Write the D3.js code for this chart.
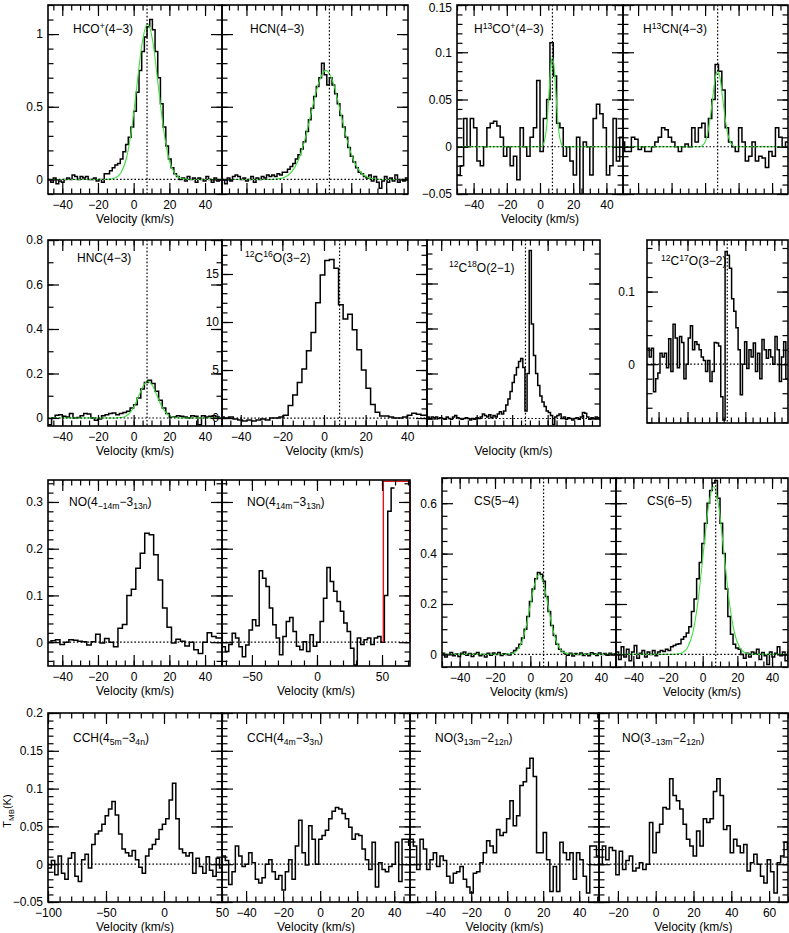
<!DOCTYPE html>
<html>
<head>
<meta charset="utf-8">
<script src="https://cdn.jsdelivr.net/npm/d3@7"></script>
<style>
  body { margin: 0; background: #fff; }
  svg { display: block; font-family: "Liberation Sans", Arial, sans-serif; }
</style>
</head>
<body>
<script>
// ---- spectra: T_MB (K) per channel ----
// HCO+(4-3), channels start -48 km/s, 1.5 km/s wide
const hcoT = [0.0, -0.02, 0.01, -0.03, -0.01, -0.02, 0.0, 0.01, 0.0, 0.03,
  0.02, 0.0, 0.02, 0.01, 0.02, 0.0, 0.0, 0.01, -0.01, 0.0,
  -0.02, 0.04, 0.04, 0.06, 0.08, 0.1, 0.11, 0.14, 0.19, 0.24,
  0.29, 0.36, 0.47, 0.6, 0.75, 0.88, 0.98, 1.05, 1.1, 1.03,
  0.88, 0.7, 0.52, 0.36, 0.23, 0.14, 0.08, 0.04, 0.02, 0.0,
  0.01, -0.01, 0.02, 0.0, 0.01, -0.02, 0.01, 0.0, -0.01, 0.02,
  0.0, -0.02, 0.01, -0.01, 0.0];
// HCN(4-3), start -54, 1.5 wide
const hcnT = [0.0, -0.03, 0.01, -0.01, 0.02, 0.03, 0.02, 0.0, 0.01, -0.01,
  0.0, 0.02, -0.02, 0.01, 0.0, 0.02, 0.01, 0.03, 0.02, 0.03,
  0.02, 0.04, 0.03, 0.05, 0.05, 0.07, 0.09, 0.11, 0.14, 0.17,
  0.21, 0.26, 0.33, 0.41, 0.49, 0.57, 0.64, 0.7, 0.8, 0.72,
  0.65, 0.7, 0.65, 0.59, 0.52, 0.44, 0.36, 0.29, 0.22, 0.16,
  0.12, 0.08, 0.05, 0.04, 0.02, 0.01, 0.03, -0.01, 0.02, -0.02,
  -0.06, -0.01, 0.02, -0.02, 0.01, -0.01, 0.03, -0.02, 0.0, -0.01, 0.01];
// H13CO+(4-3), start -50, 2 wide
const h13coT = [-0.03, -0.02, 0.03, 0.0, 0.03, 0.02, -0.015, -0.02, 0.0, 0.02,
  0.025, 0.027, 0.022, 0.01, -0.01, 0.0, -0.02, -0.01, -0.035, 0.02,
  0.0, -0.01, 0.01, 0.02, 0.07, -0.005, 0.03, 0.05, 0.11, 0.075,
  0.025, 0.02, -0.01, 0.0, -0.015, -0.03, 0.01, -0.05, 0.005, 0.0,
  -0.03, 0.03, 0.045, 0.035, 0.02, -0.03, -0.02, 0.03, -0.015, 0.01];
// H13CN(4-3), start -50, 2 wide
const h13cnT = [0.005, -0.005, -0.005, 0.01, 0.008, -0.003, 0.0, -0.005, -0.005, 0.0,
  0.005, 0.01, 0.02, 0.018, 0.01, 0.005, 0.0, -0.005, 0.0, 0.003,
  0.0, 0.02, 0.005, 0.02, 0.025, 0.01, 0.03, 0.05, 0.087, 0.08,
  0.06, 0.02, 0.005, 0.0, -0.005, 0.02, 0.005, -0.015, -0.01, 0.005,
  -0.015, -0.01, -0.012, -0.022, -0.005, -0.01, 0.02, 0.01, 0.0, 0.005];
// HNC(4-3), start -48, 2 wide
const hncT = [-0.03, 0.0, 0.012, 0.015, 0.008, 0.005, 0.02, 0.0, 0.002, 0.01,
  0.02, 0.018, 0.0, -0.01, -0.005, 0.01, 0.015, 0.02, 0.022, 0.015,
  0.02, 0.025, 0.03, 0.045, 0.06, 0.09, 0.13, 0.16, 0.17, 0.155,
  0.12, 0.08, 0.045, 0.02, 0.005, 0.005, 0.01, 0.008, 0.005, 0.0,
  0.01, 0.008, -0.03, 0.01, 0.005, 0.008, 0.01, 0.005, 0.0];
// 12C16O(3-2), start -50.2, 2.2 wide
const co16T = [0.1, 0.0, 0.1, -0.1, -0.2, -0.3, -0.2, -0.3, -0.2, -0.1,
  -0.2, 0.0, 0.0, 0.1, 0.3, 1.3, 2.4, 3.7, 5.1, 7.0,
  8.9, 12.0, 14.9, 16.4, 16.5, 15.6, 11.8, 10.3, 10.8, 9.2,
  7.1, 5.0, 3.1, 1.4, 0.6, 0.2, 0.2, 0.1, 0.0, 0.0,
  0.1, 0.3, 0.5, 0.4, 0.3, 0.3];
// 12C18O(2-1), start -48, 1.2 wide
const co18T = [0.01, 0.0, 0.01, 0.005, 0.01, 0.0, 0.005, 0.0, -0.005, 0.01,
  0.0, -0.005, 0.01, 0.02, 0.005, 0.0, -0.005, 0.0, 0.005, 0.0,
  -0.01, 0.0, -0.005, 0.005, 0.0, 0.01, 0.03, 0.02, 0.01, 0.025,
  0.005, 0.02, 0.01, 0.03, 0.045, 0.03, 0.05, 0.09, 0.13, 0.18,
  0.24, 0.29, 0.34, 0.38, 0.4, 0.34, 0.05, 0.3, 1.12, 0.63,
  0.42, 0.3, 0.22, 0.15, 0.11, 0.08, 0.05, 0.04, 0.02, -0.04,
  0.01, 0.02, 0.03, 0.0, 0.01, -0.005, 0.005, 0.0, -0.01, 0.0,
  0.005, -0.005, 0.01, 0.04, 0.035, 0.01, -0.005, 0.005, 0.0, 0.01,
  0.005, 0.0];
// 12C17O(3-2), start -48, 1.5 wide
const co17T = [0.022, 0.01, 0.022, -0.038, -0.02, -0.012, 0.015, 0.01, 0.015, -0.005,
  0.035, -0.01, 0.055, 0.036, -0.005, 0.038, 0.03, -0.02, 0.0, 0.036,
  0.053, 0.02, 0.031, 0.027, 0.02, 0.01, 0.005, -0.01, 0.005, -0.024,
  -0.01, 0.03, 0.029, 0.025, -0.045, -0.077, 0.155, 0.15, 0.132, 0.09,
  0.073, 0.05, 0.02, -0.042, 0.0, 0.031, -0.006, 0.02, 0.01, 0.029,
  -0.01, 0.015, -0.02, 0.034, 0.02, 0.008, 0.02, 0.01, 0.0, 0.038,
  0.02, -0.024, 0.01, 0.031, -0.02];
// NO(4_-14m - 3_13n), start -48.8, 2.5 wide
const no1T = [0.0, 0.003, 0.005, -0.005, 0.0, 0.005, 0.004, 0.002, 0.001, -0.006,
  0.001, 0.017, -0.002, 0.008, 0.0, -0.01, 0.03, 0.038, 0.1, 0.113,
  0.158, 0.19, 0.233, 0.23, 0.187, 0.133, 0.073, 0.032, -0.002, 0.006,
  0.002, -0.008, 0.0, -0.016, -0.024, 0.0, 0.02, 0.012, 0.009, 0.009];
// NO(4_14m - 3_13n), start -73, 2.6 wide
const no2T = [-0.01, -0.02, -0.005, 0.019, 0.009, -0.01, -0.031, -0.006, 0.026, 0.048,
  0.035, 0.153, 0.137, 0.119, 0.073, 0.037, 0.009, -0.027, 0.012, 0.044,
  0.053, 0.023, -0.009, -0.016, 0.001, -0.02, 0.016, -0.009, 0.0, 0.044,
  0.094, 0.16, 0.13, 0.109, 0.087, 0.066, 0.041, 0.023, -0.013, -0.049,
  0.009, -0.005, 0.005, 0.009, -0.005, 0.009, 0.012, 0.0, 0.1, 0.28, 0.33];
// CS(5-4), start -50, 1.5 wide
const cs54T = [0.005, -0.01, 0.0, 0.008, -0.005, 0.002, -0.008, 0.005, 0.01, -0.003,
  0.004, -0.008, 0.002, 0.008, -0.005, 0.0, -0.01, 0.005, -0.003, 0.006,
  0.0, 0.008, -0.004, 0.003, 0.0, -0.002, 0.006, 0.015, 0.025, 0.04,
  0.065, 0.1, 0.15, 0.21, 0.26, 0.3, 0.325, 0.318, 0.29, 0.23,
  0.17, 0.115, 0.075, 0.04, 0.02, 0.012, 0.004, -0.003, 0.005, -0.006,
  0.004, 0.0, 0.006, -0.004, 0.002, -0.005, 0.007, 0.003, -0.004, 0.006,
  0.0, 0.004, -0.003, 0.005, 0.0, 0.003];
// CS(6-5), start -50, 1.5 wide
const cs65T = [0.01, -0.02, 0.03, -0.01, 0.02, -0.025, 0.01, 0.035, -0.015, 0.005,
  0.015, -0.01, 0.01, 0.0, 0.015, -0.005, 0.01, 0.015, 0.012, 0.02,
  0.015, 0.03, 0.035, 0.04, 0.042, 0.06, 0.07, 0.085, 0.11, 0.17,
  0.22, 0.3, 0.365, 0.44, 0.52, 0.6, 0.65, 0.68, 0.69, 0.62,
  0.52, 0.4, 0.26, 0.15, 0.08, 0.04, 0.025, 0.02, 0.0, -0.015,
  0.005, -0.01, 0.01, 0.005, 0.02, -0.02, 0.008, -0.005, -0.04, 0.01,
  -0.01, 0.005, 0.03, -0.005, 0.01, -0.025, 0.01];
// CCH(4_5m - 3_4n), start -100, 2.9 wide
const cch1T = [-0.005, 0.005, -0.014, 0.011, -0.012, -0.02, 0.008, 0.015, -0.016, -0.023,
  0.006, 0.013, -0.005, 0.026, 0.04, 0.044, 0.053, 0.064, 0.073, 0.083,
  0.065, 0.04, 0.02, 0.015, 0.011, 0.018, 0.006, -0.004, -0.012, 0.011,
  0.02, 0.026, 0.033, 0.046, 0.053, 0.06, 0.085, 0.107, 0.06, 0.02,
  0.015, 0.011, 0.015, -0.012, 0.008, -0.003, -0.012, 0.01, -0.008, -0.016,
  0.008, -0.005];
// CCH(4_4m - 3_3n), start -53, 1.8 wide
const cch2T = [0.011, 0.005, -0.027, -0.01, 0.024, 0.011, -0.003, 0.0, 0.015, 0.002,
  -0.02, -0.025, -0.018, 0.0, 0.006, -0.01, -0.02, -0.015, -0.034, -0.01,
  0.006, -0.02, 0.024, 0.058, 0.015, -0.001, 0.051, 0.033, 0.0, 0.033,
  0.038, 0.045, 0.06, 0.07, 0.075, 0.073, 0.067, 0.06, 0.049, 0.033,
  0.04, 0.038, 0.02, 0.006, -0.007, 0.029, -0.03, 0.002, -0.007, -0.01,
  -0.003, 0.0, 0.029, -0.023, 0.033, 0.033, 0.025];
// NO(3_13m - 2_12n), start -54, 1.85 wide
const no3T = [0.033, 0.024, -0.007, 0.033, 0.02, -0.007, 0.006, 0.015, -0.003, 0.011,
  0.005, -0.016, -0.025, -0.012, -0.01, -0.003, -0.02, -0.03, -0.038, -0.012,
  -0.01, 0.002, 0.015, 0.031, 0.024, 0.015, 0.046, 0.038, 0.042, 0.06,
  0.084, 0.051, 0.064, 0.104, 0.109, 0.127, 0.14, 0.116, 0.015, 0.015,
  0.042, 0.006, -0.036, -0.003, -0.036, 0.029, 0.015, 0.006, 0.015, -0.02,
  0.015, 0.006, -0.016, -0.038, 0.024, 0.024, 0.011];
// NO(3_-13m - 2_12n), start -30, 1.78 wide
const no4T = [0.0, 0.024, 0.006, 0.022, 0.018, -0.014, 0.017, -0.007, 0.005, 0.011,
  -0.009, -0.005, 0.002, -0.007, 0.0, 0.055, 0.015, 0.042, 0.053, 0.075,
  0.073, 0.113, 0.091, 0.084, 0.073, 0.053, 0.033, 0.024, 0.011, 0.044,
  0.024, 0.06, 0.055, 0.06, 0.096, 0.113, 0.091, 0.046, 0.051, 0.015,
  0.033, 0.024, 0.015, 0.026, -0.009, 0.002, 0.013, 0.0, -0.016, -0.025,
  0.006, -0.01, -0.038, 0.002, 0.011, 0.029, 0.02];

// channel grid of each spectrum: first channel edge and width (km/s)
const spectra = {
  hco: { v0: -48, dv: 1.5, T: hcoT },
  hcn: { v0: -54, dv: 1.5, T: hcnT },
  h13co: { v0: -50, dv: 2, T: h13coT },
  h13cn: { v0: -50, dv: 2, T: h13cnT },
  hnc: { v0: -48, dv: 2, T: hncT },
  co16: { v0: -50.2, dv: 2.2, T: co16T },
  co18: { v0: -48, dv: 1.2, T: co18T },
  co17: { v0: -48, dv: 1.5, T: co17T },
  no1: { v0: -48.8, dv: 2.5, T: no1T },
  no2: { v0: -73, dv: 2.6, T: no2T },
  cs54: { v0: -50, dv: 1.5, T: cs54T },
  cs65: { v0: -50, dv: 1.5, T: cs65T },
  cch1: { v0: -100, dv: 2.9, T: cch1T },
  cch2: { v0: -53, dv: 1.8, T: cch2T },
  no3: { v0: -54, dv: 1.85, T: no3T },
  no4: { v0: -30, dv: 1.78, T: no4T }
};

// ---- gaussian fits (green), [velocity, T] ----
const hcoFit = [[-48, 0], [-16.2, 0], [-13.2, 0.002], [-10.2, 0.011], [-7.2, 0.044], [-4.2, 0.139],
  [-1.2, 0.34], [1.8, 0.643], [4.8, 0.942], [7.8, 1.07], [10.8, 0.942], [13.8, 0.643], [16.8, 0.34],
  [19.8, 0.139], [22.8, 0.044], [25.8, 0.011], [28.8, 0.002], [31.8, 0], [49.5, 0]];
const hcnFit = [[-54, 0], [-26.5, 0], [-22.5, 0.003], [-18.5, 0.014], [-14.5, 0.047], [-10.5, 0.127],
  [-6.5, 0.276], [-2.5, 0.481], [1.5, 0.671], [5.5, 0.75], [9.5, 0.671], [13.5, 0.481], [17.5, 0.276],
  [21.5, 0.127], [25.5, 0.047], [29.5, 0.014], [33.5, 0.003], [37.5, 0], [52.5, 0]];
const h13coFit = [[-50, 0], [0.5, 0], [1.5, 0.001], [2.5, 0.005], [3.5, 0.014], [4.5, 0.032], [5.5, 0.059],
  [6.5, 0.084], [7.5, 0.095], [8.5, 0.084], [9.5, 0.059], [10.5, 0.032], [11.5, 0.014], [12.5, 0.005],
  [13.5, 0.001], [14.5, 0], [50, 0]];
const h13cnFit = [[-49, 0], [-3, 0], [-1.5, 0.0015], [0, 0.005], [1.5, 0.014], [3, 0.03], [4.5, 0.051],
  [6, 0.072], [7.5, 0.08], [9, 0.072], [10.5, 0.051], [12, 0.03], [13.5, 0.014], [15, 0.005],
  [16.5, 0.0015], [18, 0], [49.5, 0]];
const hncFit = [[-48, 0], [-9.5, 0], [-7, 0.002], [-4.5, 0.008], [-2, 0.024], [0.5, 0.056], [3, 0.102],
  [5.5, 0.146], [8, 0.165], [10.5, 0.146], [13, 0.102], [15.5, 0.056], [18, 0.024], [20.5, 0.008],
  [23, 0.002], [25.5, 0], [49.5, 0]];
const cs54Fit = [[-50, 0], [-15, 0], [-12.5, 0.001], [-10, 0.004], [-7.5, 0.0155], [-5, 0.046], [-2.5, 0.107],
  [0, 0.196], [2.5, 0.281], [5, 0.317], [7.5, 0.281], [10, 0.196], [12.5, 0.107], [15, 0.046],
  [17.5, 0.0155], [20, 0.004], [22.5, 0.001], [25, 0], [48.5, 0]];
const cs65Fit = [[-50, 0], [-17.7, 0], [-14.7, 0.0013], [-11.7, 0.0068], [-8.7, 0.0276], [-5.7, 0.0866],
  [-2.7, 0.211], [0.3, 0.4], [3.3, 0.585], [6.3, 0.665], [9.3, 0.585], [12.3, 0.4], [15.3, 0.211],
  [18.3, 0.0866], [21.3, 0.0276], [24.3, 0.0068], [27.3, 0.0013], [30.3, 0], [49.2, 0]];

// red window in the NO(4_14m-3_13n) panel: [v start, v end, T]
const redBox = [51, 71.5, 0.344];
const vsys = 7.5; // systemic velocity marker (km/s)

// ---- layout ----
const width = 789, height = 933;
const svg = d3.select("body").append("svg").attr("width", width).attr("height", height);

const panels = [
  { key: "hco", title: [["HCO"], ["+", "sup"], ["(4\u22123)"]], box: [48, 222, 5, 194], xDom: [-48, 49.5], yDom: [-0.1, 1.2],
    xt: [20, 5], yt: [0.5, 0.1], xLab: true, yLab: true, vel: true, vline: true, fit: hcoFit, tx: 25, ty: 28 },
  { key: "hcn", title: [["HCN(4\u22123)"]], box: [222, 408, 5, 194], xDom: [-54, 52.5], yDom: [-0.1, 1.2],
    xt: [20, 5], yt: [0.5, 0.1], vline: true, fit: hcnFit, tx: 28, ty: 28 },
  { key: "h13co", title: [["H"], ["13", "sup"], ["CO"], ["+", "sup"], ["(4\u22123)"]], box: [457, 623, 5, 194], xDom: [-50, 50], yDom: [-0.05, 0.15],
    xt: [20, 5], yt: [0.05, 0.01], xLab: true, yLab: true, vel: true, vline: true, fit: h13coFit, tx: 17, ty: 28 },
  { key: "h13cn", title: [["H"], ["13", "sup"], ["CN(4\u22123)"]], box: [623, 788, 5, 194], xDom: [-49, 49.5], yDom: [-0.05, 0.15],
    xt: [20, 5], yt: [0.05, 0.01], vline: true, fit: h13cnFit, tx: 20, ty: 28 },

  { key: "hnc", title: [["HNC(4\u22123)"]], box: [48, 222, 240, 426], xDom: [-48, 49.5], yDom: [-0.036, 0.8],
    xt: [20, 5], yt: [0.2, 0.1], xLab: true, yLab: true, vel: true, vline: true, fit: hncFit, tx: 29, ty: 21.5 },
  { key: "co16", title: [["12", "sup"], ["C"], ["16", "sup"], ["O(3\u22122)"]], box: [222, 427, 240, 426], xDom: [-49, 49.5], yDom: [-0.83, 18.54],
    xt: [20, 5], yt: [5, 1], xLab: true, yLab: true, yPad: 3, vel: true, vline: true, tx: 23, ty: 21.5 },
  { key: "co18", title: [["12", "sup"], ["C"], ["18", "sup"], ["O(2\u22121)"]], box: [427, 600, 240, 426], xDom: [-48, 49.5], yDom: [-0.05, 1.19],
    xt: [20, 5], yt: [0.3, 0.1], vel: true, vline: true, tx: 22, ty: 31.5 },
  { key: "co17", title: [["12", "sup"], ["C"], ["17", "sup"], ["O(3\u22122)"]], box: [647, 788, 240, 423], xDom: [-48, 49.5], yDom: [-0.081, 0.171],
    xt: [20, 5], yt: [0.1, 0.02], yLab: true, yPad: 12, vline: true, tx: 14, ty: 25 },

  { key: "no1", title: [["NO(4"], ["\u221214m", "sub"], ["\u22123"], ["13n", "sub"], [")"]], box: [48, 222, 480, 666], xDom: [-48, 49.5], yDom: [-0.051, 0.347],
    xt: [20, 5], yt: [0.1, 0.02], xLab: true, yLab: true, vel: true, tx: 21, ty: 25.7 },
  { key: "no2", title: [["NO(4"], ["14m", "sub"], ["\u22123"], ["13n", "sub"], [")"]], box: [222, 410, 480, 666], xDom: [-73, 71.5], yDom: [-0.051, 0.347],
    xt: [50, 10], yt: [0.1, 0.02], xLab: true, vel: true, red: redBox, tx: 25, ty: 25.7 },
  { key: "cs54", title: [["CS(5\u22124)"]], box: [442, 616, 478, 667], xDom: [-50, 48.5], yDom: [-0.05, 0.7],
    xt: [20, 5], yt: [0.2, 0.05], xLab: true, yLab: true, vel: true, vline: true, fit: cs54Fit, tx: 32, ty: 27 },
  { key: "cs65", title: [["CS(6\u22125)"]], box: [616, 788, 478, 667], xDom: [-50, 49.2], yDom: [-0.05, 0.7],
    xt: [20, 5], yt: [0.2, 0.05], xLab: true, vel: true, vline: true, fit: cs65Fit, tx: 31, ty: 27 },

  { key: "cch1", title: [["CCH(4"], ["5m", "sub"], ["\u22123"], ["4n", "sub"], [")"]], box: [48, 222, 713, 902], xDom: [-100, 50], yDom: [-0.05, 0.2],
    xt: [50, 10], yt: [0.05, 0.01], xLab: true, yLab: true, vel: true, tx: 25, ty: 29 },
  { key: "cch2", title: [["CCH(4"], ["4m", "sub"], ["\u22123"], ["3n", "sub"], [")"]], box: [222, 410, 713, 902], xDom: [-53, 48.5], yDom: [-0.05, 0.2],
    xt: [20, 5], yt: [0.05, 0.01], xLab: true, vel: true, tx: 25, ty: 29 },
  { key: "no3", title: [["NO(3"], ["13m", "sub"], ["\u22122"], ["12n", "sub"], [")"]], box: [410, 599, 713, 902], xDom: [-54, 51], yDom: [-0.05, 0.2],
    xt: [20, 5], yt: [0.05, 0.01], xLab: true, vel: true, tx: 25, ty: 28.5 },
  { key: "no4", title: [["NO(3"], ["\u221213m", "sub"], ["\u22122"], ["12n", "sub"], [")"]], box: [599, 788, 713, 902], xDom: [-30, 70], yDom: [-0.05, 0.2],
    xt: [20, 5], yt: [0.05, 0.01], xLab: true, vel: true, tx: 23, ty: 28.5 }
];

const MAJ = 11, MIN = 5.5;
const fmt = d3.format("~g");

// tick values on a fixed step inside the domain
function stepTicks(dom, step) {
  const a = Math.ceil(dom[0] / step - 1e-6), b = Math.floor(dom[1] / step + 1e-6);
  return d3.range(a, b + 1).map(k => +(k * step).toFixed(6));
}

// text with super/subscripts
function richText(sel, segs, size) {
  let shift = 0;
  segs.forEach(([t, m]) => {
    const target = m === "sup" ? -4.5 : m === "sub" ? 3 : 0;
    sel.append("tspan")
      .attr("dy", target - shift)
      .attr("font-size", m ? size * 0.72 : size)
      .text(t);
    shift = target;
  });
}

panels.forEach((p, i) => {
  const [x0, x1, y0, y1] = p.box;
  const x = d3.scaleLinear().domain(p.xDom).range([x0, x1]);
  const y = d3.scaleLinear().domain(p.yDom).range([y1, y0]);
  const g = svg.append("g");

  svg.append("clipPath").attr("id", "clip" + i)
    .append("rect").attr("x", x0).attr("y", y0).attr("width", x1 - x0).attr("height", y1 - y0);
  const plot = g.append("g").attr("clip-path", `url(#clip${i})`);

  // histogram spectrum
  const s = spectra[p.key];
  const pts = s.T.map((t, k) => [s.v0 + k * s.dv, t]);
  pts.push([s.v0 + s.T.length * s.dv, s.T[s.T.length - 1]]);
  plot.append("path").datum(pts)
    .attr("fill", "none").attr("stroke", "#000").attr("stroke-width", 1.5)
    .attr("d", d3.line().x(d => x(d[0])).y(d => y(d[1])).curve(d3.curveStepAfter));

  // gaussian fit
  if (p.fit) {
    plot.append("path").datum(p.fit)
      .attr("fill", "none").attr("stroke", "#3de03d").attr("stroke-width", 1.1)
      .attr("d", d3.line().x(d => x(d[0])).y(d => y(d[1])).curve(d3.curveMonotoneX));
  }

  // dotted reference lines
  plot.append("line")
    .attr("x1", x0).attr("x2", x1).attr("y1", y(0)).attr("y2", y(0))
    .attr("stroke", "#000").attr("stroke-width", 1.2).attr("stroke-dasharray", "1.6 2");
  if (p.vline) {
    plot.append("line")
      .attr("x1", x(vsys)).attr("x2", x(vsys)).attr("y1", y0).attr("y2", y1)
      .attr("stroke", "#000").attr("stroke-width", 1.2).attr("stroke-dasharray", "1.6 2");
  }

  // red window
  if (p.red) {
    const r = p.red;
    g.append("path").datum([[r[0], 0], [r[0], r[2]], [r[1], r[2]], [r[1], 0]])
      .attr("fill", "none").attr("stroke", "#e8141c").attr("stroke-width", 1.4)
      .attr("d", d3.line().x(d => x(d[0])).y(d => y(d[1])));
  }

  // ticks on all four sides, pointing inwards
  const xMaj = stepTicks(p.xDom, p.xt[0]), xMin = stepTicks(p.xDom, p.xt[1]);
  const yMaj = stepTicks(p.yDom, p.yt[0]), yMin = stepTicks(p.yDom, p.yt[1]);
  const axes = [
    [d3.axisBottom(x), `translate(0,${y1})`, xMin, xMaj, p.xLab, 6],
    [d3.axisTop(x), `translate(0,${y0})`, xMin, xMaj, false, 3],
    [d3.axisLeft(y), `translate(${x0},0)`, yMin, yMaj, p.yLab, p.yPad || 5],
    [d3.axisRight(y), `translate(${x1},0)`, yMin, yMaj, false, 3]
  ];
  axes.forEach(([ax, tr, mn, mj, lab, pad]) => {
    g.append("g").attr("transform", tr)
      .call(ax.tickValues(mn).tickSize(-MIN).tickSizeOuter(0).tickFormat(""))
      .call(a => a.select(".domain").remove());
    const a2 = g.append("g").attr("transform", tr)
      .call(ax.tickValues(mj).tickSize(-MAJ).tickSizeOuter(0).tickPadding(pad).tickFormat(lab ? fmt : ""))
      .call(a => a.select(".domain").remove());
    a2.attr("font-size", 12).attr("font-family", null);
    a2.selectAll("text").attr("fill", "#000");
  });
  g.selectAll(".tick line").attr("stroke", "#000").attr("stroke-width", 1.2);

  // keep a y label sitting on the top edge of the page inside the picture
  if (y0 < 10) {
    g.selectAll(".tick text").filter(d => p.yLab && Math.abs(y(d) - y0) < 1).attr("dy", "0.55em");
  }

  // frame
  g.append("rect").attr("x", x0).attr("y", y0).attr("width", x1 - x0).attr("height", y1 - y0)
    .attr("fill", "none").attr("stroke", "#000").attr("stroke-width", 1.6);

  // line name
  richText(g.append("text").attr("x", x0 + p.tx).attr("y", y0 + p.ty).attr("fill", "#000"), p.title, 12);

  if (p.vel) {
    g.append("text").attr("x", (x0 + x1) / 2).attr("y", y1 + 29)
      .attr("text-anchor", "middle").attr("font-size", 12).text("Velocity (km/s)");
  }
});

// y-axis title
const yt = svg.append("text").attr("transform", "translate(11,811) rotate(-90)")
  .attr("text-anchor", "middle").attr("fill", "#000");
richText(yt, [["T"], ["MB", "sub"], ["(K)"]], 11);
</script>
</body>
</html>
